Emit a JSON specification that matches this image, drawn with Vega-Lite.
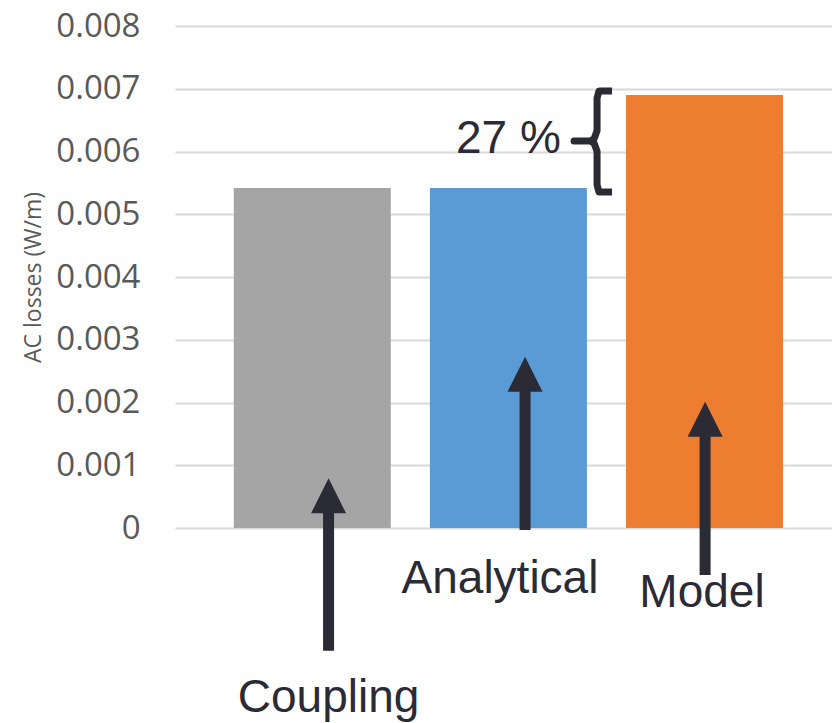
{
  "$schema": "https://vega.github.io/schema/vega-lite/v6.json",
  "autosize": "none",
  "width": 657,
  "height": 502,
  "padding": {"left": 175, "top": 26, "right": 0, "bottom": 195},
  "background": "white",
  "config": {"view": {"stroke": null}},
  "datasets": {
    "bars": [
      {"method": "Coupling", "pos": 1, "loss": 0.00542},
      {"method": "Analytical", "pos": 2, "loss": 0.00542},
      {"method": "Model", "pos": 3, "loss": 0.0069}
    ],
    "arrows": [
      {"method": "Coupling", "x": 1.083, "tip": 0.000792, "base": -0.001955},
      {"method": "Analytical", "x": 2.085, "tip": 0.00273, "base": -0.000032},
      {"method": "Model", "x": 3.003, "tip": 0.002013, "base": -0.000749}
    ],
    "labels": [
      {"text": "Coupling", "x": 1.083, "y": -0.002932},
      {"text": "Analytical", "x": 1.957, "y": -0.001041},
      {"text": "Model", "x": 2.987, "y": -0.001254},
      {"text": "27 %", "x": 2.0, "y": 0.005971}
    ],
    "brace": [
      {"i": 0, "x": 2.5285, "y": 0.006964},
      {"i": 1, "x": 2.462, "y": 0.006964},
      {"i": 2, "x": 2.452, "y": 0.006850},
      {"i": 3, "x": 2.452, "y": 0.006330},
      {"i": 4, "x": 2.4365, "y": 0.006200},
      {"i": 5, "x": 2.4165, "y": 0.006167},
      {"i": 6, "x": 2.3347, "y": 0.006167},
      {"i": 7, "x": 2.4165, "y": 0.006167},
      {"i": 8, "x": 2.4365, "y": 0.006134},
      {"i": 9, "x": 2.452, "y": 0.006004},
      {"i": 10, "x": 2.452, "y": 0.005470},
      {"i": 11, "x": 2.462, "y": 0.005355},
      {"i": 12, "x": 2.5285, "y": 0.005355}
    ]
  },
  "layer": [
    {
      "data": {"name": "bars"},
      "mark": {"type": "bar", "orient": "vertical", "width": 157},
      "encoding": {
        "x": {"field": "pos", "type": "quantitative", "scale": {"domain": [0.3, 3.65], "nice": false, "zero": false, "padding": 0}, "axis": null},
        "y": {
          "field": "loss",
          "type": "quantitative",
          "scale": {"domain": [0, 0.008], "nice": false},
          "axis": {
            "values": [0, 0.001, 0.002, 0.003, 0.004, 0.005, 0.006, 0.007, 0.008],
            "format": "~g",
            "domain": false,
            "ticks": false,
            "labelPadding": 35,
            "labelFont": "Open Sans",
            "labelFontSize": 33,
            "labelColor": "#595959",
            "gridColor": "#d9d9d9",
            "gridWidth": 2,
            "title": "AC losses (W/m)",
            "titleFont": "Open Sans",
            "titleFontSize": 23,
            "titleFontWeight": "normal",
            "titleColor": "#595959",
            "titleAngle": -90,
            "titleX": -142,
            "titleY": 251,
            "titleAlign": "center",
            "titleBaseline": "middle"
          }
        },
        "color": {
          "field": "method",
          "type": "nominal",
          "scale": {"domain": ["Coupling", "Analytical", "Model"], "range": ["#a5a5a5", "#5b9bd5", "#ed7d31"]},
          "legend": null
        }
      }
    },
    {
      "data": {"name": "arrows"},
      "mark": {"type": "rule", "strokeWidth": 11, "color": "#2b2b36", "yOffset": 20},
      "encoding": {
        "x": {"field": "x", "type": "quantitative", "scale": {"domain": [0.3, 3.65], "nice": false, "zero": false, "padding": 0}, "axis": null},
        "y": {"field": "tip", "type": "quantitative"},
        "y2": {"field": "base"}
      }
    },
    {
      "data": {"name": "arrows"},
      "mark": {"type": "point", "shape": "M-1,2L1,2L0,0Z", "size": 1225, "filled": true, "opacity": 1, "color": "#2b2b36", "strokeWidth": 0},
      "encoding": {
        "x": {"field": "x", "type": "quantitative", "scale": {"domain": [0.3, 3.65], "nice": false, "zero": false, "padding": 0}, "axis": null},
        "y": {"field": "tip", "type": "quantitative"}
      }
    },
    {
      "data": {"name": "brace"},
      "mark": {"type": "line", "strokeWidth": 7, "color": "#2b2b36", "strokeJoin": "round", "strokeCap": "butt"},
      "encoding": {
        "x": {"field": "x", "type": "quantitative", "scale": {"domain": [0.3, 3.65], "nice": false, "zero": false, "padding": 0}, "axis": null},
        "y": {"field": "y", "type": "quantitative"},
        "order": {"field": "i", "type": "quantitative"}
      }
    },
    {
      "data": {"name": "labels"},
      "mark": {"type": "text", "font": "Liberation Sans", "fontSize": 46, "color": "#2b2b36", "align": "center", "baseline": "alphabetic"},
      "encoding": {
        "x": {"field": "x", "type": "quantitative", "scale": {"domain": [0.3, 3.65], "nice": false, "zero": false, "padding": 0}, "axis": null},
        "y": {"field": "y", "type": "quantitative"},
        "text": {"field": "text", "type": "nominal"}
      }
    }
  ]
}
